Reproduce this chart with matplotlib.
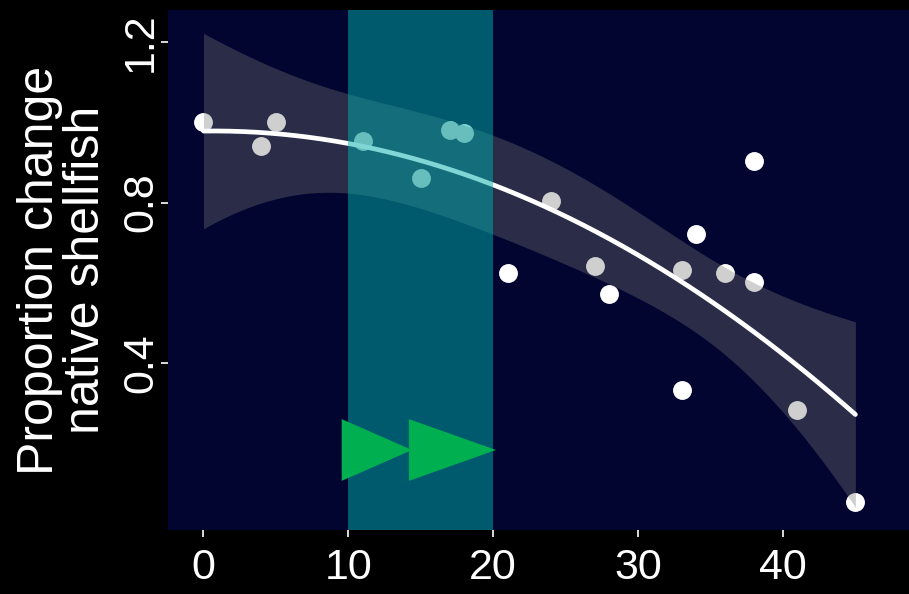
import matplotlib
matplotlib.use("Agg")
import matplotlib.pyplot as plt
import numpy as np

plt.rcParams['font.family'] = ['Liberation Sans', 'DejaVu Sans']

# observations: months since invasion vs proportion change in native shellfish
months = [0, 4, 5, 11, 15, 17, 18, 21, 24, 27, 28, 33, 33, 34, 36, 38, 38, 41, 45]
prop_change = [1.00, 0.94, 1.00, 0.954, 0.861, 0.981, 0.974, 0.624, 0.804, 0.642,
               0.572, 0.632, 0.333, 0.722, 0.624, 0.904, 0.602, 0.283, 0.053]

# highlighted window and the two "fast forward" arrows
window = [10, 20]
arrow_left = [9.54, 14.18]
arrow_tip = [14.39, 20.19]
arrow_low, arrow_high = 0.106, 0.26

x_ticks = [0, 10, 20, 30, 40]
y_ticks = [0.4, 0.8, 1.2]

x = np.array(months, dtype=float)
y = np.array(prop_change)

# quadratic fit with 95% confidence band (like geom_smooth(method='lm', y ~ poly(x, 2)))
X = np.column_stack([np.ones_like(x), x, x ** 2])
beta, _, _, _ = np.linalg.lstsq(X, y, rcond=None)
resid = y - X @ beta
dof = len(x) - 3
sigma2 = resid @ resid / dof
cov = sigma2 * np.linalg.inv(X.T @ X)
xs = np.linspace(x.min(), x.max(), 200)
Xs = np.column_stack([np.ones_like(xs), xs, xs ** 2])
fit = Xs @ beta
se = np.sqrt(np.einsum('ij,jk,ik->i', Xs, cov, Xs))
t_crit = 2.12
lo, hi = fit - t_crit * se, fit + t_crit * se

fig = plt.figure(figsize=(9.09, 5.94), dpi=100, facecolor='black')
ax = fig.add_axes([168 / 909, 64 / 594, 741 / 909, 520 / 594])
ax.set_facecolor('#020530')

ax.scatter(x, y, s=185, color='white', linewidths=0, zorder=2)
ax.fill_between(xs, lo, hi, color='#767676', alpha=0.35, linewidth=0, zorder=3)
ax.plot(xs, fit, color='white', lw=3.4, solid_capstyle='round', zorder=4)
ax.axvspan(window[0], window[1], color='#00afac', alpha=0.5, linewidth=0, zorder=5)

for left, tip in zip(arrow_left, arrow_tip):
    ax.fill([left, left, tip], [arrow_low, arrow_high, (arrow_low + arrow_high) / 2],
            color='#00b050', linewidth=0, zorder=6)

ax.set_xlim(-2.45, 48.7)
ax.set_ylim(-0.0165, 1.28)
ax.set_xticks(x_ticks)
ax.set_yticks(y_ticks)
ax.set_xticklabels([str(v) for v in x_ticks])
ax.set_yticklabels([f'{v:.1f}' for v in y_ticks], rotation=90, va='center')

for side in ['top', 'right', 'bottom', 'left']:
    ax.spines[side].set_visible(False)

ax.tick_params(axis='both', colors='white', labelcolor='white', labelsize=31,
               length=5, width=1.2, direction='out')
ax.tick_params(axis='x', pad=8)
ax.tick_params(axis='y', pad=0)

ax.set_ylabel('Proportion change\nnative shellfish', color='white', fontsize=36,
              linespacing=1.0, labelpad=9)

fig.savefig('out.png', dpi=100, facecolor='black')
